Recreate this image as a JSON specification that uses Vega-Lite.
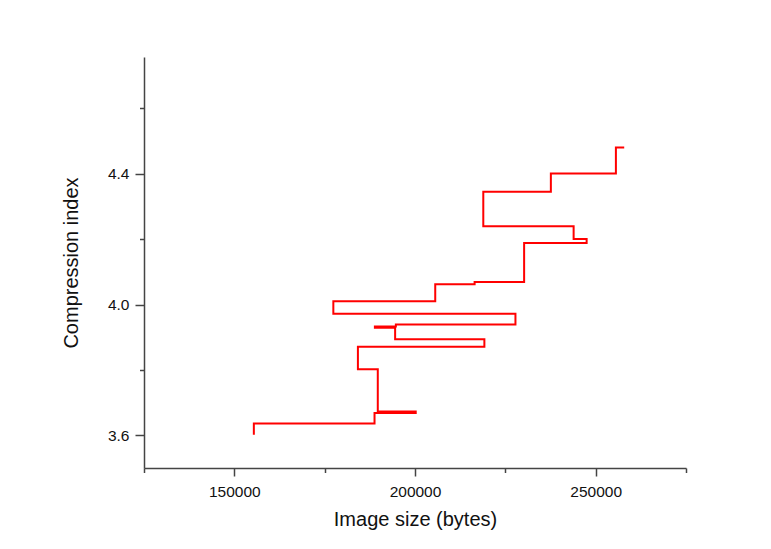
{
  "$schema": "https://vega.github.io/schema/vega-lite/v6.json",
  "width": 542,
  "height": 411,
  "autosize": "none",
  "padding": {"left": 144, "top": 57, "right": 85, "bottom": 81},
  "background": "white",
  "config": {
    "view": {"stroke": null},
    "axis": {
      "grid": false,
      "labelFont": "Liberation Sans",
      "titleFont": "Liberation Sans",
      "domainColor": "#444444",
      "tickColor": "#444444",
      "domainWidth": 1.5,
      "tickWidth": 1.5,
      "labelColor": "#111111",
      "titleColor": "#111111",
      "titleFontWeight": "normal"
    }
  },
  "data": {
    "values": [
      {"i": 0, "size": 155400, "index": 3.602},
      {"i": 1, "size": 188800, "index": 3.636},
      {"i": 2, "size": 200200, "index": 3.668},
      {"i": 3, "size": 189700, "index": 3.673},
      {"i": 4, "size": 184200, "index": 3.802},
      {"i": 5, "size": 219200, "index": 3.871},
      {"i": 6, "size": 194500, "index": 3.894},
      {"i": 7, "size": 188900, "index": 3.929},
      {"i": 8, "size": 194700, "index": 3.933},
      {"i": 9, "size": 227800, "index": 3.939},
      {"i": 10, "size": 177400, "index": 3.972},
      {"i": 11, "size": 205600, "index": 4.010},
      {"i": 12, "size": 216500, "index": 4.062},
      {"i": 13, "size": 230200, "index": 4.069},
      {"i": 14, "size": 247500, "index": 4.188},
      {"i": 15, "size": 243900, "index": 4.200},
      {"i": 16, "size": 218900, "index": 4.239},
      {"i": 17, "size": 237600, "index": 4.345},
      {"i": 18, "size": 255600, "index": 4.401},
      {"i": 19, "size": 257900, "index": 4.480}
    ]
  },
  "layer": [
    {
      "mark": {"type": "line", "interpolate": "step-before", "color": "#ff0000", "strokeWidth": 2},
      "encoding": {
        "x": {
          "field": "size", "type": "quantitative",
          "scale": {"domain": [125000, 275000], "nice": false, "zero": false},
          "axis": {"orient": "bottom", "values": [150000, 200000, 250000], "format": "d", "tickSize": 8, "labelPadding": 8, "labelFontSize": 15.5, "title": "Image size (bytes)", "titleFontSize": 20, "titlePadding": 10}
        },
        "y": {
          "field": "index", "type": "quantitative",
          "scale": {"domain": [3.5, 4.757], "nice": false, "zero": false},
          "axis": {"orient": "left", "values": [3.6, 4.0, 4.4], "format": ".1f", "tickSize": 9, "labelPadding": 6, "labelFontSize": 15.5, "title": "Compression index", "titleFontSize": 20, "titlePadding": 26}
        },
        "order": {"field": "i", "type": "quantitative"}
      }
    },
    {
      "mark": {"type": "point", "opacity": 0},
      "encoding": {
        "x": {
          "field": "size", "type": "quantitative",
          "scale": {"domain": [125000, 275000], "nice": false, "zero": false},
          "axis": {"orient": "bottom", "values": [125000, 175000, 225000, 275000], "labels": false, "domain": false, "tickSize": 4.5, "title": null}
        },
        "y": {
          "field": "index", "type": "quantitative",
          "scale": {"domain": [3.5, 4.757], "nice": false, "zero": false},
          "axis": {"orient": "left", "values": [3.8, 4.2, 4.6], "labels": false, "domain": false, "tickSize": 4.5, "title": null}
        }
      }
    }
  ],
  "resolve": {"axis": {"x": "independent", "y": "independent"}}
}
